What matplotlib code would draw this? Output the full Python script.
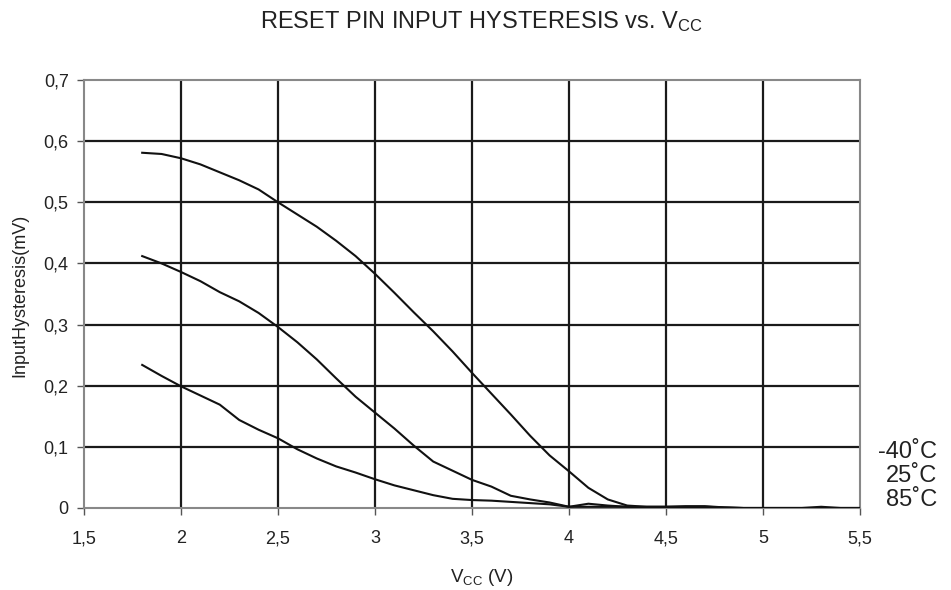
import matplotlib
matplotlib.use("Agg")
import matplotlib.pyplot as plt

plt.rcParams['font.family'] = ['Liberation Sans', 'DejaVu Sans']
plt.rcParams['mathtext.fontset'] = 'custom'
plt.rcParams['mathtext.rm'] = 'Liberation Sans'

vcc = [1.8, 1.9, 2.0, 2.1, 2.2, 2.3, 2.4, 2.5, 2.6, 2.7, 2.8, 2.9, 3.0, 3.1, 3.2, 3.3, 3.4,
       3.5, 3.6, 3.7, 3.8, 3.9, 4.0, 4.1, 4.2, 4.3, 4.4, 4.5, 4.6, 4.7, 4.8, 4.9, 5.0,
       5.1, 5.2, 5.3, 5.4, 5.5]
hyst_m40 = [0.581, 0.579, 0.572, 0.562, 0.549, 0.536, 0.521, 0.500, 0.480, 0.460, 0.437,
            0.412, 0.383, 0.352, 0.320, 0.289, 0.256, 0.221, 0.187, 0.153, 0.118, 0.086,
            0.060, 0.033, 0.014, 0.004, 0.002, 0.002, 0.002, 0.002, 0.001, 0.0, 0.0,
            0.0, 0.0, 0.0, 0.0, 0.0]
hyst_25 = [0.412, 0.400, 0.386, 0.371, 0.353, 0.338, 0.319, 0.296, 0.271, 0.243, 0.212,
           0.182, 0.156, 0.130, 0.102, 0.076, 0.061, 0.046, 0.035, 0.020, 0.014, 0.009,
           0.002, 0.007, 0.004, 0.002, 0.001, 0.001, 0.001, 0.001, 0.0, 0.0, 0.0,
           0.0, 0.0, 0.0, 0.0, 0.0]
hyst_85 = [0.234, 0.216, 0.199, 0.184, 0.169, 0.144, 0.128, 0.114, 0.096, 0.081, 0.068,
           0.058, 0.047, 0.037, 0.029, 0.021, 0.015, 0.013, 0.012, 0.010, 0.008, 0.006,
           0.002, 0.002, 0.002, 0.002, 0.002, 0.002, 0.003, 0.003, 0.001, 0.0, 0.0,
           0.0, 0.0, 0.002, 0.0, 0.0]
series_labels = ['-40˚C', '25˚C', '85˚C']
xticks = [1.5, 2, 2.5, 3, 3.5, 4, 4.5, 5, 5.5]
xticklabels = ['1,5', '2', '2,5', '3', '3,5', '4', '4,5', '5', '5,5']
yticks = [0, 0.1, 0.2, 0.3, 0.4, 0.5, 0.6, 0.7]
yticklabels = ['0', '0,1', '0,2', '0,3', '0,4', '0,5', '0,6', '0,7']

W, H = 951, 590
fig = plt.figure(figsize=(W/100, H/100), dpi=100)
ax = fig.add_axes([84/W, 1-508/H, (860-84)/W, (508-80)/H])

for xv in xticks[1:-1]:
    ax.axvline(xv, color='#1a1a1a', lw=1.6, zorder=1)
for yv in yticks[1:-1]:
    ax.axhline(yv, color='#1a1a1a', lw=1.6, zorder=1)

for s in (hyst_m40, hyst_25, hyst_85):
    ax.plot(vcc, s, color='#111111', lw=1.5, zorder=3)

ax.set_xlim(1.5, 5.5)
ax.set_ylim(0, 0.7)
ax.set_xticks(xticks)
ax.set_xticklabels(xticklabels)
ax.set_yticks(yticks)
ax.set_yticklabels(yticklabels)
ax.tick_params(direction='out', length=5, width=1, color='#555555', labelsize=13,
               labelcolor='#222222')
ax.tick_params(axis='x', pad=11)
ax.tick_params(axis='y', pad=6)
for sp in ax.spines.values():
    sp.set_color('#888888')
    sp.set_linewidth(1.5)

fig.text(482/W, 1-578/H, r'$\mathregular{V_{CC}}$ (V)', ha='center', va='center',
         fontsize=13.5, color='#222222')
fig.text(20/W, 1-295/H, 'InputHysteresis(mV)', ha='center', va='center',
         rotation=90, fontsize=13, color='#222222')
fig.text(481/W, 1-22/H, r'RESET PIN INPUT HYSTERESIS vs. $\mathregular{V_{CC}}$',
         ha='center', va='center', fontsize=17, color='#222222')

for i, lab in enumerate(series_labels):
    fig.text(937/W, 1-(452 + 24*i)/H, lab, ha='right', va='center',
             fontsize=17, color='#222222')

fig.savefig('out.png', dpi=100)
